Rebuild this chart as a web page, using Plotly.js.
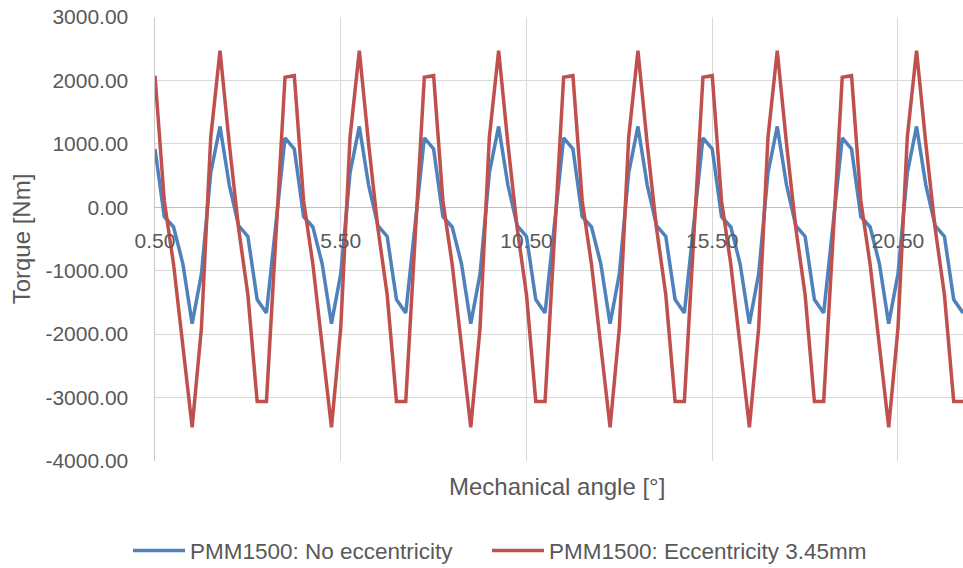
<!DOCTYPE html>
<html>
<head>
<meta charset="utf-8">
<script src="https://cdn.plot.ly/plotly-3.0.1.min.js"></script>
<style>html,body{margin:0;padding:0;background:#fff;}#chart{width:963px;height:568px;}</style>
</head>
<body>
<div id="chart"></div>
<script>
// Mechanical angle [°], sampled every 0.25°
const angle = [
  0.50, 0.75, 1.00, 1.25, 1.50, 1.75, 2.00, 2.25, 2.50, 2.75, 3.00, 3.25, 3.50, 3.75, 4.00,
  4.25, 4.50, 4.75, 5.00, 5.25, 5.50, 5.75, 6.00, 6.25, 6.50, 6.75, 7.00, 7.25, 7.50, 7.75,
  8.00, 8.25, 8.50, 8.75, 9.00, 9.25, 9.50, 9.75, 10.00, 10.25, 10.50, 10.75, 11.00, 11.25, 11.50,
  11.75, 12.00, 12.25, 12.50, 12.75, 13.00, 13.25, 13.50, 13.75, 14.00, 14.25, 14.50, 14.75, 15.00, 15.25,
  15.50, 15.75, 16.00, 16.25, 16.50, 16.75, 17.00, 17.25, 17.50, 17.75, 18.00, 18.25, 18.50, 18.75, 19.00,
  19.25, 19.50, 19.75, 20.00, 20.25, 20.50, 20.75, 21.00, 21.25, 21.50, 21.75, 22.00, 22.25
];

// PMM1500: No eccentricity [Nm]
const torqueNoEcc = [
  920, -150, -310, -890, -1835, -1050, 540, 1275, 350, -290, -460, -1455, -1665, -290, 1095,
  920, -150, -310, -890, -1835, -1050, 540, 1275, 350, -290, -460, -1455, -1665, -290, 1095,
  920, -150, -310, -890, -1835, -1050, 540, 1275, 350, -290, -460, -1455, -1665, -290, 1095,
  920, -150, -310, -890, -1835, -1050, 540, 1275, 350, -290, -460, -1455, -1665, -290, 1095,
  920, -150, -310, -890, -1835, -1050, 540, 1275, 350, -290, -460, -1455, -1665, -290, 1095,
  920, -150, -310, -890, -1835, -1050, 540, 1275, 350, -290, -460, -1455, -1665
];

// PMM1500: Eccentricity 3.45mm [Nm]
const torqueEcc = [
  2075, 100, -900, -2200, -3470, -1900, 1100, 2470, 1000, -330, -1380, -3060, -3060, -500, 2050,
  2075, 100, -900, -2200, -3470, -1900, 1100, 2470, 1000, -330, -1380, -3060, -3060, -500, 2050,
  2075, 100, -900, -2200, -3470, -1900, 1100, 2470, 1000, -330, -1380, -3060, -3060, -500, 2050,
  2075, 100, -900, -2200, -3470, -1900, 1100, 2470, 1000, -330, -1380, -3060, -3060, -500, 2050,
  2075, 100, -900, -2200, -3470, -1900, 1100, 2470, 1000, -330, -1380, -3060, -3060, -500, 2050,
  2075, 100, -900, -2200, -3470, -1900, 1100, 2470, 1000, -330, -1380, -3060, -3060
];

const seriesNames = ['PMM1500: No eccentricity', 'PMM1500: Eccentricity 3.45mm'];

// Axis ticks
const yTickVals = [-4000, -3000, -2000, -1000, 0, 1000, 2000, 3000];
const yTickText = ['-4000.00', '-3000.00', '-2000.00', '-1000.00', '0.00', '1000.00', '2000.00', '3000.00'];
const xTickVals = [0.5, 5.5, 10.5, 15.5, 20.5];
const xTickText = ['0.50', '5.50', '10.50', '15.50', '20.50'];

const FONT = 'Liberation Sans, Arial, sans-serif';
const TXT = '#595959';

const traces = [
  {x: angle, y: torqueNoEcc, name: seriesNames[0], type: 'scatter', mode: 'lines',
   line: {color: '#4F81BD', width: 3.5}, legend: 'legend'},
  {x: angle, y: torqueEcc, name: seriesNames[1], type: 'scatter', mode: 'lines',
   line: {color: '#C0504D', width: 3.5}, legend: 'legend2'}
];

const legendBase = {
  orientation: 'h', xanchor: 'left', xref: 'container', yref: 'container',
  y: 0.03, yanchor: 'middle',
  font: {family: FONT, size: 22.5, color: TXT}, itemwidth: 52,
  bgcolor: 'rgba(0,0,0,0)'
};

const layout = {
  width: 963, height: 568,
  margin: {l: 155, r: 0, t: 17, b: 107},
  paper_bgcolor: '#fff', plot_bgcolor: '#fff',
  font: {family: FONT, size: 21, color: TXT},
  showlegend: true,
  xaxis: {
    range: [0.5, 22.25], tickmode: 'array', tickvals: xTickVals, ticktext: xTickText,
    showgrid: true, gridcolor: '#D9D9D9', gridwidth: 1,
    zeroline: false, showline: false, ticks: '',
    anchor: 'free', position: 0.572, ticklabelstandoff: 19,
    tickfont: {family: FONT, size: 21, color: TXT}
  },
  yaxis: {
    range: [-4000, 3000], tickmode: 'array', tickvals: yTickVals, ticktext: yTickText,
    showgrid: true, gridcolor: '#D9D9D9', gridwidth: 1,
    zeroline: true, zerolinecolor: '#BFBFBF', zerolinewidth: 1.5,
    showline: true, linecolor: '#C8C8C8', linewidth: 1.5, ticks: '',
    ticklabelstandoff: 21,
    tickfont: {family: FONT, size: 21, color: TXT},
    title: {text: 'Torque [Nm]', font: {family: FONT, size: 24, color: TXT}, standoff: 8}
  },
  annotations: [{
    text: 'Mechanical angle [°]', xref: 'paper', yref: 'paper',
    x: 0.497, y: -0.058, xanchor: 'center', yanchor: 'middle', showarrow: false,
    font: {family: FONT, size: 24, color: TXT}
  }],
  legend: Object.assign({}, legendBase, {x: 128 / 963}),
  legend2: Object.assign({}, legendBase, {x: 487 / 963})
};

Plotly.newPlot('chart', traces, layout, {displayModeBar: false, staticPlot: true});
</script>
</body>
</html>
